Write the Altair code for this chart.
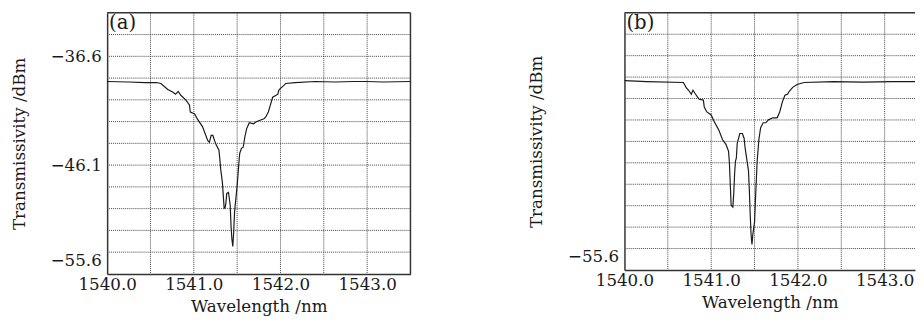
import altair as alt
import pandas as pd

# ---------------- data ----------------
wl_a = [1540.00, 1540.25, 1540.44, 1540.57, 1540.62, 1540.70, 1540.76, 1540.79, 1540.82, 1540.85,
        1540.91, 1540.95, 1540.96, 1541.01, 1541.04, 1541.10, 1541.16, 1541.18, 1541.20, 1541.22,
        1541.25, 1541.29, 1541.30, 1541.31, 1541.33, 1541.34, 1541.35, 1541.36, 1541.37, 1541.38,
        1541.40, 1541.42, 1541.43, 1541.44, 1541.45, 1541.46, 1541.47, 1541.50, 1541.52, 1541.53,
        1541.55, 1541.57, 1541.59, 1541.61, 1541.63, 1541.64, 1541.69, 1541.72, 1541.78, 1541.81,
        1541.83, 1541.86, 1541.89, 1541.91, 1541.95, 1541.97, 1541.98, 1542.00, 1542.04, 1542.06,
        1542.17, 1542.40, 1542.63, 1542.85, 1542.99, 1543.19, 1543.50]
db_a = [-38.80, -38.84, -38.89, -38.89, -38.97, -39.49, -39.74, -39.91, -39.66, -40.00,
        -40.43, -40.86, -41.46, -41.63, -42.06, -42.74, -43.94, -44.11, -43.51, -43.51,
        -44.20, -44.80, -45.57, -46.43, -47.63, -48.74, -49.86, -49.86, -49.43, -48.57,
        -48.49, -49.60, -51.49, -52.60, -53.20, -52.00, -50.20, -47.89, -45.91, -45.06,
        -44.63, -44.54, -43.60, -42.91, -42.57, -42.40, -42.49, -42.31, -42.14, -42.06,
        -41.89, -41.46, -40.69, -40.17, -40.00, -39.91, -39.57, -39.40, -39.14, -38.97,
        -38.89, -38.80, -38.84, -38.80, -38.80, -38.84, -38.80]

wl_b = [1540.00, 1540.26, 1540.68, 1540.71, 1540.74, 1540.77, 1540.79, 1540.82, 1540.86, 1540.91,
        1540.92, 1540.95, 1541.00, 1541.03, 1541.09, 1541.13, 1541.17, 1541.20, 1541.21, 1541.22,
        1541.23, 1541.25, 1541.26, 1541.27, 1541.28, 1541.29, 1541.30, 1541.33, 1541.36, 1541.38,
        1541.39, 1541.40, 1541.43, 1541.44, 1541.45, 1541.46, 1541.47, 1541.48, 1541.50, 1541.51,
        1541.53, 1541.55, 1541.57, 1541.60, 1541.63, 1541.66, 1541.71, 1541.76, 1541.79, 1541.82,
        1541.85, 1541.88, 1541.90, 1541.94, 1541.99, 1542.07, 1542.41, 1542.75, 1543.09, 1543.35]
db_b = [-38.82, -38.90, -38.98, -39.41, -39.67, -40.02, -39.67, -40.02, -40.46, -40.54,
        -41.15, -41.59, -41.85, -42.37, -43.24, -44.03, -44.46, -45.07, -46.11, -48.03,
        -49.86, -50.03, -48.81, -47.07, -45.94, -45.68, -44.37, -43.50, -43.50, -43.94,
        -44.72, -45.24, -46.81, -48.55, -50.73, -52.47, -53.34, -52.47, -51.34, -49.42,
        -45.94, -44.03, -42.98, -42.55, -42.55, -42.29, -42.11, -42.11, -41.59, -40.72,
        -40.11, -40.02, -39.76, -39.41, -39.15, -38.98, -38.90, -38.94, -38.90, -38.90]

x_grid_a = [1540.5, 1541.0, 1541.5, 1542.0, 1542.5, 1543.0]
x_grid_b = [1540.5, 1541.0, 1541.5, 1542.0, 1542.5, 1543.0]
x_ticks = [1540.0, 1541.0, 1542.0, 1543.0]
x_domain_a = [1540.0, 1543.5]
x_domain_b = [1540.0, 1543.35]
y_grid = [-53.7, -51.8, -49.9, -48.0, -46.1, -44.2, -42.3, -40.4, -38.5, -36.6, -34.7]
y_domain = [-55.6, -32.8]
y_labels_a = [-36.6, -46.1, -55.6]
y_labels_b = [-55.6]
panel_tags = ["(a)", "(b)"]

FONT = "DejaVu Serif"
INK = "#1a1a1a"
FRAME = "#333333"
GRID = "#444444"


def panel(wl, db, xdom, xgrid, ylabels, w, h, tag, right_border):
    df = pd.DataFrame({"wl": wl, "db": db})
    one = pd.DataFrame({"k": [0]})
    xs = alt.Scale(domain=xdom, nice=False, zero=False)
    ys = alt.Scale(domain=y_domain, nice=False, zero=False)
    xaxis = alt.Axis(values=x_ticks, format=".1f", title="Wavelength /nm",
                     grid=False, labelPadding=3, titlePadding=6)
    yaxis = alt.Axis(values=ylabels, format=".1f",
                     title="Transmissivity /dBm", grid=False, labelPadding=6,
                     titlePadding=22,
                     labelOffset={"condition": {"test": "datum.value < -55", "value": -14},
                                  "value": 0})

    line = alt.Chart(df).mark_line(color=INK, strokeWidth=1.2, clip=True).encode(
        x=alt.X("wl:Q", scale=xs, axis=xaxis),
        y=alt.Y("db:Q", scale=ys, axis=yaxis),
    )
    vgrid = alt.Chart(pd.DataFrame({"g": xgrid})).mark_rule(
        color=GRID, strokeWidth=1, strokeDash=[1, 1]).encode(
        x=alt.X("g:Q", scale=xs, axis=xaxis))
    hgrid = alt.Chart(pd.DataFrame({"g": y_grid})).mark_rule(
        color=GRID, strokeWidth=1, strokeDash=[1, 1]).encode(
        y=alt.Y("g:Q", scale=ys, axis=yaxis))

    top = alt.Chart(one).mark_rule(color=FRAME, strokeWidth=1.5).encode(y=alt.value(0))
    label = alt.Chart(one).mark_text(align="left", baseline="top", font=FONT, fontSize=20,
                                     color=INK).encode(
        x=alt.value(2), y=alt.value(1), text=alt.value(tag))
    layers = [vgrid, hgrid, line, top, label]
    if right_border:
        layers.append(alt.Chart(one).mark_rule(color=FRAME, strokeWidth=1.5).encode(x=alt.value(w)))
    return alt.layer(*layers).properties(width=w, height=h)


pa = panel(wl_a, db_a, x_domain_a, x_grid_a, y_labels_a, 309, 266, panel_tags[0], True)
pb = panel(wl_b, db_b, x_domain_b, x_grid_b, y_labels_b, 296, 262, panel_tags[1], False)

chart = alt.hconcat(pa, pb, spacing=118).configure(
    padding={"left": 2, "top": 1, "right": 0, "bottom": 0},
    background="white",
).configure_view(strokeOpacity=0).configure_axis(
    labelFont=FONT, labelFontSize=17, labelColor=INK,
    titleFont=FONT, titleFontSize=17, titleFontWeight="normal", titleColor=INK,
    tickSize=0, domain=True, domainColor=FRAME, domainWidth=1.5,
    labelFlush=False, labelOverlap=False,
)

chart.save("out.html", embed_options={"renderer": "svg", "actions": False})
